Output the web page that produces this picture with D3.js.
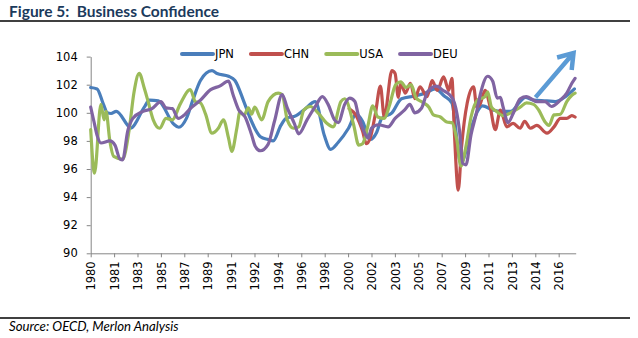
<!DOCTYPE html>
<html>
<head>
<meta charset="utf-8">
<script src="https://cdn.jsdelivr.net/npm/d3@7"></script>
<style>
  body { margin: 0; background: #fff; }
  svg { display: block; }
</style>
</head>
<body>
<div id="chart"></div>
<script>
const width = 638;
const height = 338;

// monthly series at turning points: [year, index]
const jpn = [
  [1980.0, 101.8], [1980.5, 101.7], [1981.0, 100.6], [1981.3, 100.0], [1981.6, 99.95],
  [1982.0, 100.1], [1982.9, 99.1], [1983.1, 98.9], [1984.2, 100.4], [1984.6, 100.9],
  [1985.3, 100.85], [1986.5, 99.2], [1986.9, 98.97], [1987.5, 99.6], [1988.0, 100.9],
  [1988.6, 102.3], [1989.5, 103.0], [1989.9, 102.8], [1990.8, 102.6], [1991.3, 102.3],
  [1992.0, 100.8], [1992.5, 99.6], [1993.3, 98.3], [1993.9, 98.1], [1994.3, 98.0],
  [1994.9, 99.1], [1995.3, 99.6], [1996.1, 99.8], [1996.7, 100.2], [1997.6, 100.8],
  [1998.3, 98.4], [1998.8, 97.4], [1999.4, 97.9], [2000.2, 98.9], [2000.8, 99.9],
  [2001.3, 99.4], [2001.9, 98.1], [2002.4, 98.6], [2002.8, 99.6], [2003.6, 100.0],
  [2004.35, 101.0], [2005.4, 101.2], [2006.2, 101.4], [2007.0, 101.7], [2007.7, 101.2],
  [2008.3, 100.7], [2009.0, 96.4], [2009.9, 99.15], [2010.3, 100.1], [2010.7, 100.5],
  [2011.5, 100.2], [2012.25, 100.1], [2012.9, 100.1], [2013.65, 100.8], [2014.05, 101.1],
  [2014.7, 100.9], [2015.75, 100.85], [2016.4, 100.8], [2017.2, 101.15], [2017.9, 101.7]
];

const chn = [
  [2000.25, 100.3], [2000.8, 99.8], [2001.3, 98.7], [2001.6, 97.8], [2001.9, 98.2],
  [2002.3, 99.9], [2002.7, 101.9], [2003.0, 99.7], [2003.6, 103.0], [2003.85, 102.8],
  [2004.1, 101.1], [2004.3, 102.1], [2004.65, 101.4], [2005.05, 102.1], [2005.4, 101.0],
  [2005.8, 101.85], [2006.35, 101.15], [2006.75, 102.3], [2007.15, 101.6], [2007.65, 102.55],
  [2008.05, 101.6], [2008.3, 102.45], [2008.5, 98.5], [2008.8, 94.5], [2009.05, 97.5],
  [2009.5, 100.7], [2010.0, 101.85], [2010.25, 100.4], [2010.5, 100.6], [2010.9, 101.6],
  [2011.3, 100.4], [2011.7, 98.8], [2012.1, 100.2], [2012.6, 99.0], [2013.1, 99.25],
  [2013.65, 98.9], [2014.0, 99.4], [2014.45, 98.9], [2014.95, 99.1], [2015.75, 98.55],
  [2016.3, 99.0], [2016.8, 99.6], [2017.3, 99.6], [2017.7, 99.8], [2017.95, 99.7]
];

const usa = [
  [1980.0, 98.8], [1980.3, 95.7], [1980.8, 100.6], [1981.05, 99.5], [1981.2, 100.1],
  [1981.5, 98.0], [1981.8, 96.9], [1982.5, 96.7], [1983.0, 98.7], [1983.4, 101.5],
  [1983.8, 102.8], [1984.2, 101.75], [1984.5, 100.8], [1984.9, 99.5], [1985.4, 98.9],
  [1985.9, 99.6], [1986.4, 99.5], [1987.0, 100.6], [1987.8, 101.65], [1988.2, 100.8],
  [1988.6, 100.7], [1989.0, 99.9], [1989.5, 98.55], [1990.0, 98.9], [1990.4, 99.5],
  [1990.8, 98.2], [1991.05, 97.25], [1991.45, 98.9], [1991.7, 100.1], [1992.0, 99.8],
  [1992.35, 100.35], [1992.6, 99.9], [1992.85, 100.4], [1993.4, 99.5], [1993.9, 100.8],
  [1994.7, 101.4], [1995.0, 101.3], [1995.4, 99.5], [1995.9, 98.9], [1996.3, 99.0],
  [1996.7, 100.2], [1997.2, 100.45], [1997.9, 99.9], [1998.5, 99.25], [1999.0, 99.0],
  [1999.6, 100.8], [1999.9, 101.0], [2000.6, 99.15], [2001.0, 97.7], [2001.3, 97.8],
  [2001.7, 99.0], [2002.1, 100.5], [2002.5, 99.7], [2003.0, 99.6], [2003.4, 100.5],
  [2003.9, 102.0], [2004.3, 102.2], [2004.7, 101.8], [2005.1, 102.0], [2005.5, 101.05],
  [2005.9, 100.8], [2006.5, 100.4], [2006.85, 99.85], [2007.4, 99.7], [2007.9, 99.35],
  [2008.3, 99.3], [2008.7, 98.0], [2009.0, 96.2], [2009.4, 97.6], [2009.8, 99.7],
  [2010.3, 100.9], [2010.9, 101.15], [2011.1, 101.5], [2011.4, 100.4], [2011.8, 100.1],
  [2012.3, 99.8], [2013.1, 100.1], [2013.65, 100.4], [2014.15, 100.7], [2014.7, 100.6],
  [2015.1, 100.2], [2015.6, 99.35], [2015.9, 99.1], [2016.3, 99.85], [2016.8, 99.9],
  [2017.3, 100.8], [2017.7, 101.25], [2017.95, 101.4]
];

const deu = [
  [1980.0, 100.4], [1980.25, 99.4], [1980.5, 98.4], [1980.8, 97.85], [1981.5, 98.0],
  [1981.9, 97.7], [1982.3, 96.7], [1982.5, 96.65], [1982.9, 98.7], [1983.3, 99.6],
  [1984.1, 100.1], [1984.8, 100.3], [1985.5, 100.8], [1985.9, 100.35], [1986.4, 100.3],
  [1986.85, 99.6], [1987.4, 99.9], [1987.8, 100.3], [1988.6, 100.9], [1989.4, 101.65],
  [1990.1, 101.9], [1990.8, 102.25], [1991.15, 101.3], [1991.6, 100.2], [1992.1, 99.7],
  [1992.6, 98.45], [1992.9, 97.6], [1993.3, 97.3], [1993.9, 97.75], [1994.4, 99.4],
  [1995.0, 101.3], [1995.4, 100.35], [1995.95, 99.25], [1996.3, 98.5], [1996.95, 99.5],
  [1997.6, 100.45], [1998.15, 101.15], [1998.6, 100.6], [1999.1, 99.5], [1999.4, 99.3],
  [1999.9, 100.6], [2000.3, 101.05], [2000.7, 100.8], [2000.95, 99.9], [2001.35, 98.8],
  [2001.75, 98.2], [2002.0, 98.9], [2002.55, 99.15], [2003.3, 99.0], [2003.85, 99.6],
  [2004.6, 100.2], [2005.0, 100.6], [2005.4, 100.0], [2005.9, 100.3], [2006.4, 101.5],
  [2007.1, 101.9], [2007.6, 101.6], [2008.1, 101.3], [2008.5, 100.7], [2008.9, 98.7],
  [2009.15, 96.4], [2009.4, 96.3], [2009.8, 98.45], [2010.2, 99.9], [2010.55, 101.4],
  [2011.1, 102.6], [2011.5, 102.25], [2011.85, 101.05], [2012.1, 101.1], [2012.3, 100.45],
  [2012.7, 99.3], [2013.1, 99.95], [2013.65, 101.0], [2014.15, 101.15], [2014.95, 100.8],
  [2015.6, 100.8], [2016.1, 100.45], [2016.8, 100.9], [2017.3, 101.4], [2017.7, 102.1],
  [2017.95, 102.45]
];

const seriesNames = ['JPN', 'CHN', 'USA', 'DEU'];
const seriesColors = ['#4a7ebb', '#c0504d', '#9bbb59', '#8064a2'];
const yTicks = [90, 92, 94, 96, 98, 100, 102, 104];
// a tick every 22 months from Jan 1980
const xTickLabels = ['1980', '1981', '1983', '1985', '1987', '1989', '1991', '1992', '1994', '1996',
  '1998', '2000', '2002', '2003', '2005', '2007', '2009', '2011', '2013', '2014', '2016'];

const svg = d3.select('#chart')
    .append('svg')
    .attr('width', width)
    .attr('height', height);

// header and footer
svg.append('text')
    .attr('x', 9)
    .attr('y', 17)
    .attr('font-family', 'Lato, sans-serif')
    .attr('font-weight', 'bold')
    .attr('font-size', 15.5)
    .attr('fill', '#1b3a5c')
    .attr('xml:space', 'preserve')
    .text('Figure 5:  Business Confidence');

svg.append('line')
    .attr('x1', 0).attr('x2', 630)
    .attr('y1', 21).attr('y2', 21)
    .attr('stroke', '#000')
    .attr('stroke-width', 1.5);

svg.append('line')
    .attr('x1', 0).attr('x2', 630)
    .attr('y1', 318).attr('y2', 318)
    .attr('stroke', '#000')
    .attr('stroke-width', 1.5);

svg.append('text')
    .attr('x', 9)
    .attr('y', 331)
    .attr('font-family', 'Lato, sans-serif')
    .attr('font-style', 'italic')
    .attr('font-size', 13.2)
    .attr('fill', '#000')
    .text('Source: OECD, Merlon Analysis');

// scales
const x = d3.scaleLinear().domain([1980, 2018]).range([90.7, 575.7]);
const y = d3.scaleLinear().domain([90, 104]).range([253.3, 56.6]);

const axisColor = '#868686';
const tickFont = 'DejaVu Sans, Verdana, sans-serif';

const yAxis = svg.append('g')
    .attr('transform', `translate(${x(1980)},0)`)
    .call(d3.axisLeft(y).tickValues(yTicks).tickSize(4).tickSizeOuter(0).tickPadding(9));
yAxis.selectAll('path, line').attr('stroke', axisColor);
yAxis.selectAll('text')
    .attr('font-family', tickFont)
    .attr('font-size', 11.5)
    .attr('fill', '#000');

const xTickValues = xTickLabels.map((d, i) => 1980 + i * 22 / 12);
const xAxis = svg.append('g')
    .attr('transform', `translate(0,${y(90)})`)
    .call(d3.axisBottom(x)
        .tickValues(xTickValues)
        .tickFormat((d, i) => xTickLabels[i])
        .tickSize(4)
        .tickSizeOuter(0));
xAxis.selectAll('path, line').attr('stroke', axisColor);
xAxis.selectAll('text')
    .attr('font-family', tickFont)
    .attr('font-size', 11.5)
    .attr('fill', '#000')
    .attr('text-anchor', 'end')
    .attr('transform', 'rotate(-90)')
    .attr('x', -8)
    .attr('y', 0)
    .attr('dy', '0.36em');

// lines
const line = d3.line()
    .x(d => x(d[0]))
    .y(d => y(d[1]))
    .curve(d3.curveMonotoneX);

[jpn, chn, usa, deu].forEach((data, i) => {
    svg.append('path')
        .datum(data)
        .attr('d', line)
        .attr('fill', 'none')
        .attr('stroke', seriesColors[i])
        .attr('stroke-width', 3.2)
        .attr('stroke-linejoin', 'round')
        .attr('stroke-linecap', 'round');
});

// legend
const legend = svg.append('g');
let lx = 182;
seriesNames.forEach((name, i) => {
    legend.append('line')
        .attr('x1', lx).attr('x2', lx + 31)
        .attr('y1', 54).attr('y2', 54)
        .attr('stroke', seriesColors[i])
        .attr('stroke-width', 4)
        .attr('stroke-linecap', 'round');
    const t = legend.append('text')
        .attr('x', lx + 33)
        .attr('y', 58.3)
        .attr('font-family', tickFont)
        .attr('font-size', 11.5)
        .attr('fill', '#000')
        .text(name);
    lx += 33 + t.node().getComputedTextLength() + 17;
});

// trend arrow
const ax1 = x(2014.85), ay1 = y(101.1);
const ax2 = x(2017.83), ay2 = y(104.25);
const ang = Math.atan2(ay2 - ay1, ax2 - ax1);
const head = 17, spread = 0.6;
svg.append('path')
    .attr('d', `M${ax1},${ay1}L${ax2},${ay2}` +
        `M${ax2 - head * Math.cos(ang - spread)},${ay2 - head * Math.sin(ang - spread)}` +
        `L${ax2},${ay2}` +
        `L${ax2 - head * Math.cos(ang + spread)},${ay2 - head * Math.sin(ang + spread)}`)
    .attr('fill', 'none')
    .attr('stroke', '#5b9bd5')
    .attr('stroke-width', 4.5)
    .attr('stroke-linejoin', 'miter');
</script>
</body>
</html>
